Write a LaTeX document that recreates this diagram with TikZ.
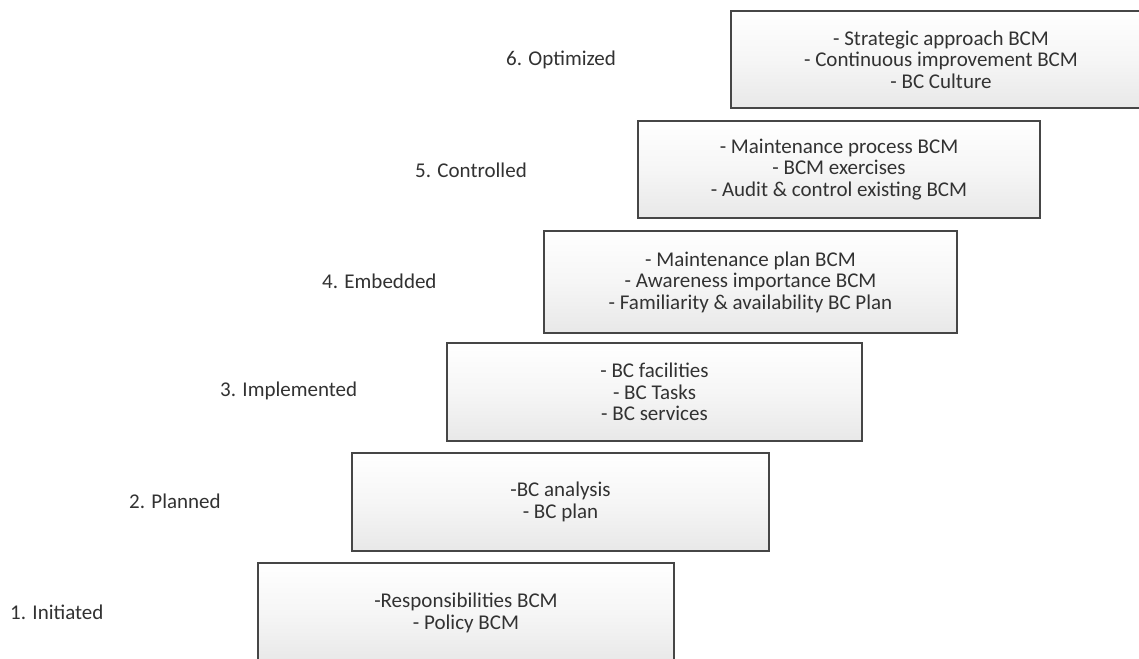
\documentclass[tikz,border=0pt]{standalone}
\usepackage{fontspec}
\setmainfont{Carlito}
\definecolor{inktext}{RGB}{50,50,50}
\definecolor{boxline}{RGB}{70,70,70}
\definecolor{boxbottom}{RGB}{232,232,232}
\begin{document}
\begin{tikzpicture}[x=1pt,y=-1pt,
  stage/.style={draw=boxline, line width=1.6pt, top color=white, bottom color=boxbottom,
    middle color=white!60!boxbottom,
    rectangle, inner sep=0pt, align=center, text=inktext,
    font=\fontsize{21}{21.5}\selectfont},
  level/.style={anchor=west, inner sep=0pt, text=inktext,
    font=\fontsize{21}{21.5}\selectfont}]
\useasboundingbox (0,0) rectangle (1139,658);
\clip (0,0) rectangle (1139,658);
\fill[white] (0,0) rectangle (1139,658);

% staircase of maturity boxes, from the top step down
\node[stage, minimum width=420, minimum height=97] (s6) at (941,59.5)
  {- Strategic approach BCM\\- Continuous improvement BCM\\- BC Culture};
\node[stage, minimum width=402, minimum height=97] (s5) at (839,169.5)
  {- Maintenance process BCM\\- BCM exercises\\- Audit \& control existing BCM};
\node[stage, minimum width=413, minimum height=102] (s4) at (750.5,282)
  {- Maintenance plan BCM\\- Awareness importance BCM\\- Familiarity \& availability BC Plan};
\node[stage, minimum width=415, minimum height=98] (s3) at (654.5,392)
  {- BC facilities\\- BC Tasks\\- BC services};
\node[stage, minimum width=417, minimum height=98] (s2) at (560.5,502)
  {-BC analysis\\- BC plan};
\node[stage, minimum width=416, minimum height=100] (s1) at (466,613)
  {-Responsibilities BCM\\- Policy BCM};

% level names beside each step
\node[level] (l6) at (506,60) {6. Optimized};
\node[level] (l5) at (415,170) {5. Controlled};
\node[level] (l4) at (322,281) {4. Embedded};
\node[level] (l3) at (220,391) {3. Implemented};
\node[level] (l2) at (129,501) {2. Planned};
\node[level] (l1) at (10,612) {1. Initiated};
\end{tikzpicture}
\end{document}
